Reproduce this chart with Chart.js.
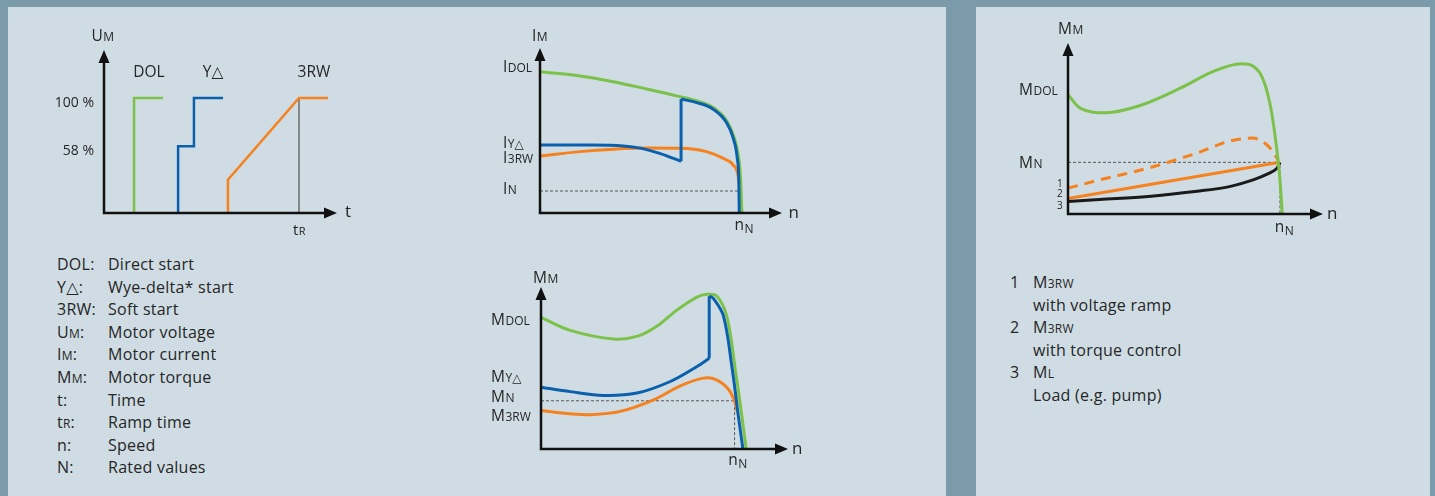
<!DOCTYPE html>
<html>
<head>
<meta charset="utf-8">
<script src="https://cdn.jsdelivr.net/npm/chart.js@4.4.1/dist/chart.umd.min.js"></script>
<style>
  body { margin: 0; width: 1435px; height: 496px; overflow: hidden; background: #7b9bab; font-family: "Open Sans", "DejaVu Sans", sans-serif; color: #262626; }
  .panel { position: absolute; top: 7px; height: 489px; background: #cfdce3; }
  canvas { position: absolute; left: 0; top: 0; }
  .list { position: absolute; font-size: 16px; line-height: 22.6px; letter-spacing: 0.25px; }
  .list div { position: relative; height: 22.6px; white-space: nowrap; }
  .list .k { position: absolute; left: 0; }
  .list .v { position: absolute; }
  .s { font-size: 12px; }
</style>
</head>
<body>
<div class="panel" style="left:8px;width:938px"></div>
<div class="panel" style="left:976px;width:454px"></div>

<div class="list" style="left:57px;top:253px">
  <div><span class="k">DOL:</span><span class="v" style="left:51px">Direct start</span></div>
  <div><span class="k">Y△:</span><span class="v" style="left:51px">Wye-delta* start</span></div>
  <div><span class="k">3RW:</span><span class="v" style="left:51px">Soft start</span></div>
  <div><span class="k">U<span class="s">M</span>:</span><span class="v" style="left:51px">Motor voltage</span></div>
  <div><span class="k">I<span class="s">M</span>:</span><span class="v" style="left:51px">Motor current</span></div>
  <div><span class="k">M<span class="s">M</span>:</span><span class="v" style="left:51px">Motor torque</span></div>
  <div><span class="k">t:</span><span class="v" style="left:51px">Time</span></div>
  <div><span class="k">t<span class="s">R</span>:</span><span class="v" style="left:51px">Ramp time</span></div>
  <div><span class="k">n:</span><span class="v" style="left:51px">Speed</span></div>
  <div><span class="k">N:</span><span class="v" style="left:51px">Rated values</span></div>
</div>

<div class="list" style="left:1010px;top:271px">
  <div><span class="k">1</span><span class="v" style="left:23px">M<span class="s">3RW</span></span></div>
  <div><span class="v" style="left:23px">with voltage ramp</span></div>
  <div><span class="k">2</span><span class="v" style="left:23px">M<span class="s">3RW</span></span></div>
  <div><span class="v" style="left:23px">with torque control</span></div>
  <div><span class="k">3</span><span class="v" style="left:23px">M<span class="s">L</span></span></div>
  <div><span class="v" style="left:23px">Load (e.g. pump)</span></div>
</div>

<canvas id="volt" width="1435" height="496"></canvas>
<canvas id="curr" width="1435" height="496"></canvas>
<canvas id="torq" width="1435" height="496"></canvas>
<canvas id="soft" width="1435" height="496"></canvas>

<script>
// ---------------- data (x: time or % of rated speed, y: % voltage / multiples of rated value) ----------------

// motor voltage over time
const voltDolX = [12.9, 12.9, 25.3];
const voltDolY = [0, 100, 100];
const voltWdX = [31.8, 31.8, 38.6, 38.6, 51.1];
const voltWdY = [0, 58, 58, 100, 100];
const voltSoftX = [53.2, 53.2, 83.7, 96.1];
const voltSoftY = [0, 29, 100, 100];
const rampTime = 83.7;
const voltTicks = [100, 58];
const voltTickLabels = ["100 %", "58 %"];
const startNames = ["DOL", "Y△", "3RW"];
const startNameX = [19.3, 46.8, 90.1];

// motor current over speed
const curDolX = [0, 19.9, 36.5, 53.2, 69.8, 78.1, 86.3, 93, 96.3, 98.8, 100, 100.6];
const curDolY = [6.42, 6.23, 5.97, 5.64, 5.29, 5.10, 4.80, 4.20, 3.55, 2.64, 1.5, 0];
const curWyeX = [0, 25, 41.5, 50, 60, 70.3];
const curWyeY = [3.09, 3.09, 3.05, 2.95, 2.70, 2.35];
const curDeltaX = [70.3, 78.1, 86.3, 93, 96.3, 98.3, 99.1, 99.3];
const curDeltaY = [5.18, 5.02, 4.72, 4.10, 3.40, 2.5, 1.4, 0];
const curSoftX = [0, 19.9, 36.5, 53.2, 69.8, 83, 91.3, 96.3, 98.8, 100.6];
const curSoftY = [2.59, 2.79, 2.9, 2.95, 2.94, 2.79, 2.48, 2.18, 1.65, 0];

// motor torque over speed
const tqDolX = [0, 15.1, 37.5, 50, 60, 70.2, 80.6, 85.7, 90.9, 96, 100.4, 103.8, 106];
const tqDolY = [2.73, 2.46, 2.28, 2.34, 2.55, 2.88, 3.15, 3.21, 3.17, 2.75, 1.64, 0.67, 0];
const tqWyeX = [0, 15.1, 32.3, 49.6, 66.8, 80.6, 86.9];
const tqWyeY = [1.28, 1.19, 1.11, 1.16, 1.40, 1.71, 1.88];
const tqDeltaX = [86.9, 89.1, 94.3, 98.6, 102, 104.3];
const tqDeltaY = [3.17, 3.12, 2.75, 1.71, 0.67, 0];
const tqSoftX = [0, 15.1, 25.5, 41, 58.2, 72, 84, 90.9, 97, 100.4, 101.5];
const tqSoftY = [0.80, 0.73, 0.71, 0.78, 1.02, 1.31, 1.47, 1.43, 1.23, 0.95, 0.75];

// soft starter torque vs. load
const rsDolX = [0, 5.7, 17.9, 33.3, 53.2, 68.6, 81.6, 90, 95.5, 98.5, 100, 101.1];
const rsDolY = [2.31, 2.05, 1.96, 2.09, 2.44, 2.76, 2.91, 2.76, 2.09, 1.25, 0.66, 0];
const rsRampX = [0, 14.9, 37.9, 60.9, 76.2, 87, 94.6, 99.2];
const rsRampY = [0.5, 0.66, 0.89, 1.18, 1.41, 1.47, 1.31, 1.05];
const rsCtrlX = [0, 100];
const rsCtrlY = [0.30, 1.0];
const rsLoadX = [0, 14.9, 37.9, 60.9, 76.2, 88, 95, 98.5, 100];
const rsLoadY = [0.24, 0.28, 0.34, 0.44, 0.53, 0.67, 0.79, 0.88, 1.0];

const rated = 100; // n_N in % and the rated value line at y = 1

// ---------------- helpers ----------------
const GREEN = "#7cc24a", BLUE = "#0b60ad", ORANGE = "#f5821f", BLACK = "#1a1a1a";
const W = 1435, H = 496;
const FONT = '"Open Sans", "DejaVu Sans", sans-serif';

const pts = (xs, ys) => xs.map((x, i) => ({ x: x, y: ys[i] }));

function line(data, color, extra) {
    return Object.assign({
        data: data, borderColor: color, borderWidth: 3, pointRadius: 0,
        fill: false, cubicInterpolationMode: "monotone", clip: false,
    }, extra || {});
}
// smoother bezier curve for the torque lines
function curve(data, color, extra) {
    return line(data, color, Object.assign({ cubicInterpolationMode: "default", tension: 0.35 }, extra || {}));
}
function straight(data, color, width) {
    return line(data, color, { tension: 0, cubicInterpolationMode: "default", borderWidth: width || 3 });
}
function guide(data) {
    return line(data, "#555", { tension: 0, cubicInterpolationMode: "default", borderWidth: 1, borderDash: [3, 2] });
}

function drawText(ctx, main, sub, x, y, align, size, low) {
    ctx.font = size + "px " + FONT;
    const w1 = ctx.measureText(main).width;
    const ss = Math.round(size * 0.76);
    ctx.font = ss + "px " + FONT;
    const w2 = sub ? ctx.measureText(sub).width : 0;
    const w = w1 + w2;
    let x0 = x;
    if (align === "center") x0 = x - w / 2;
    if (align === "right") x0 = x - w;
    const base = y + size * 0.36;
    ctx.textAlign = "left";
    ctx.textBaseline = "alphabetic";
    ctx.font = size + "px " + FONT;
    ctx.fillText(main, x0, base);
    if (sub) {
        ctx.font = ss + "px " + FONT;
        ctx.fillText(sub, x0 + w1 + 0.5, base + (low ? size * 0.22 : 0));
    }
}

// draws the two axes with arrow heads and all the labels
const axesPlugin = {
    id: "axes",
    afterDatasetsDraw(chart, args, opts) {
        const ctx = chart.ctx, a = chart.chartArea;
        const sx = chart.scales.x, sy = chart.scales.y;
        ctx.save();
        ctx.strokeStyle = "#111";
        ctx.fillStyle = "#111";
        ctx.lineWidth = 2.5;
        ctx.beginPath();
        ctx.moveTo(a.left, a.bottom + 1.25);
        ctx.lineTo(a.left, a.top + 8);
        ctx.moveTo(a.left - 1.25, a.bottom);
        ctx.lineTo(a.right - 8, a.bottom);
        ctx.stroke();
        ctx.beginPath();
        ctx.moveTo(a.left, a.top);
        ctx.lineTo(a.left - 5.5, a.top + 13);
        ctx.lineTo(a.left + 5.5, a.top + 13);
        ctx.closePath();
        ctx.moveTo(a.right, a.bottom);
        ctx.lineTo(a.right - 13, a.bottom - 5.5);
        ctx.lineTo(a.right - 13, a.bottom + 5.5);
        ctx.closePath();
        ctx.fill();
        ctx.fillStyle = "#262626";
        (opts.labels || []).forEach(l => {
            const px = sx.getPixelForValue(l.x) + (l.dx || 0);
            const py = sy.getPixelForValue(l.y) + (l.dy || 0);
            drawText(ctx, l.text, l.sub, px, py, l.align || "left", l.size || 15.5, l.low);
        });
        ctx.restore();
    },
};

function makeChart(id, area, xMax, yMax, datasets, labels) {
    return new Chart(document.getElementById(id), {
        type: "line",
        data: { datasets: datasets },
        options: {
            responsive: false,
            animation: false,
            events: [],
            layout: { padding: { left: area[0], top: area[1], right: W - area[2], bottom: H - area[3] } },
            plugins: { legend: { display: false }, tooltip: { enabled: false }, axes: { labels: labels } },
            scales: {
                x: { type: "linear", min: 0, max: xMax, display: false },
                y: { type: "linear", min: 0, max: yMax, display: false },
            },
        },
        plugins: [axesPlugin],
    });
}

// ---------------- charts ----------------

// voltage
const voltLabels = [
    { text: "U", sub: "M", x: 0, y: 141.7, dx: -1.5, dy: -15, align: "center" },
    { text: "t", x: 100, y: 0, dx: 8, dy: -2, size: 17 },
    { text: "t", sub: "R", x: rampTime, y: 0, dy: 17, align: "center", size: 15 },
];
voltTicks.forEach((v, i) => voltLabels.push({ text: voltTickLabels[i], x: 0, y: v, dx: -10, dy: 4, align: "right", size: 14 }));
startNames.forEach((s, i) => voltLabels.push({ text: s, x: startNameX[i], y: 123.5, align: "center" }));

makeChart("volt", [104, 50, 337, 213], 100, 141.7, [
    straight(pts(voltDolX, voltDolY), GREEN, 2.5),
    straight(pts(voltWdX, voltWdY), BLUE, 2.5),
    straight(pts(voltSoftX, voltSoftY), ORANGE, 2.5),
    straight([{ x: rampTime, y: 100 }, { x: rampTime, y: 0 }], "#6e6e6e", 1.5),
], voltLabels);

// current
makeChart("curr", [540, 48, 782, 213], 120.6, 7.5, [
    line(pts(curDeltaX, curDeltaY), BLUE),
    straight([{ x: curWyeX[curWyeX.length - 1], y: curWyeY[curWyeY.length - 1] }, { x: curDeltaX[0], y: curDeltaY[0] }], BLUE),
    line(pts(curWyeX, curWyeY), BLUE),
    line(pts(curDolX, curDolY), GREEN),
    line(pts(curSoftX, curSoftY), ORANGE),
    guide([{ x: 0, y: 1 }, { x: rated, y: 1 }]),
], [
    { text: "I", sub: "M", x: 0, y: 7.5, dx: -8, dy: -13 },
    { text: "I", sub: "DOL", x: 0, y: curDolY[0], dx: -37, dy: -5 },
    { text: "I", sub: "Y△", x: 0, y: curWyeY[0], dx: -37, dy: -3 },
    { text: "I", sub: "3RW", x: 0, y: curSoftY[0], dx: -37, dy: 1 },
    { text: "I", sub: "N", x: 0, y: 1, dx: -37, dy: -3 },
    { text: "n", x: 120.6, y: 0, dx: 6.5, dy: -1, size: 17 },
    { text: "n", sub: "N", x: rated, y: 0, dx: 3, dy: 11, align: "center", low: true },
]);

// torque
makeChart("torq", [541, 287, 788, 449], 127.6, 3.36, [
    curve(pts(tqDeltaX, tqDeltaY), BLUE),
    straight([{ x: tqWyeX[tqWyeX.length - 1], y: tqWyeY[tqWyeY.length - 1] }, { x: tqDeltaX[0], y: tqDeltaY[0] }], BLUE),
    curve(pts(tqWyeX, tqWyeY), BLUE),
    curve(pts(tqDolX, tqDolY), GREEN),
    curve(pts(tqSoftX, tqSoftY), ORANGE),
    guide([{ x: 0, y: 1 }, { x: rated, y: 1 }, { x: rated, y: 0 }]),
], [
    { text: "M", sub: "M", x: 0, y: 3.36, dx: -8, dy: -10 },
    { text: "M", sub: "DOL", x: 0, y: tqDolY[0], dx: -50, dy: 2 },
    { text: "M", sub: "Y△", x: 0, y: tqWyeY[0], dx: -50, dy: -11 },
    { text: "M", sub: "N", x: 0, y: 1, dx: -50, dy: -4 },
    { text: "M", sub: "3RW", x: 0, y: tqSoftY[0], dx: -50, dy: 5 },
    { text: "n", x: 127.6, y: 0, dx: 4, dy: -1, size: 17 },
    { text: "n", sub: "N", x: rated, y: 0, dx: 3, dy: 10, align: "center", low: true },
]);

// soft starter vs. load
makeChart("soft", [1068, 43, 1323, 214], 120.3, 3.31, [
    line(pts(rsDolX, rsDolY), GREEN),
    curve(pts(rsLoadX, rsLoadY), BLACK),
    straight(pts(rsCtrlX, rsCtrlY), ORANGE),
    line(pts(rsRampX, rsRampY), ORANGE, { borderDash: [10, 7] }),
    guide([{ x: 0, y: 1 }, { x: rated, y: 1 }, { x: rated, y: 0 }]),
], [
    { text: "M", sub: "M", x: 0, y: 3.31, dx: -10, dy: -15 },
    { text: "M", sub: "DOL", x: 0, y: rsDolY[0], dx: -49, dy: -5 },
    { text: "M", sub: "N", x: 0, y: 1, dx: -49, dy: 0 },
    { text: "1", x: 0, y: rsRampY[0], dx: -11, dy: -5, size: 10 },
    { text: "2", x: 0, y: rsCtrlY[0], dx: -11, dy: -5, size: 10 },
    { text: "3", x: 0, y: rsLoadY[0], dx: -11, dy: 4, size: 10 },
    { text: "n", x: 120.3, y: 0, dx: 4, dy: -1, size: 17 },
    { text: "n", sub: "N", x: rated, y: 0, dx: 4, dy: 12, align: "center", low: true },
]);
</script>
</body>
</html>
